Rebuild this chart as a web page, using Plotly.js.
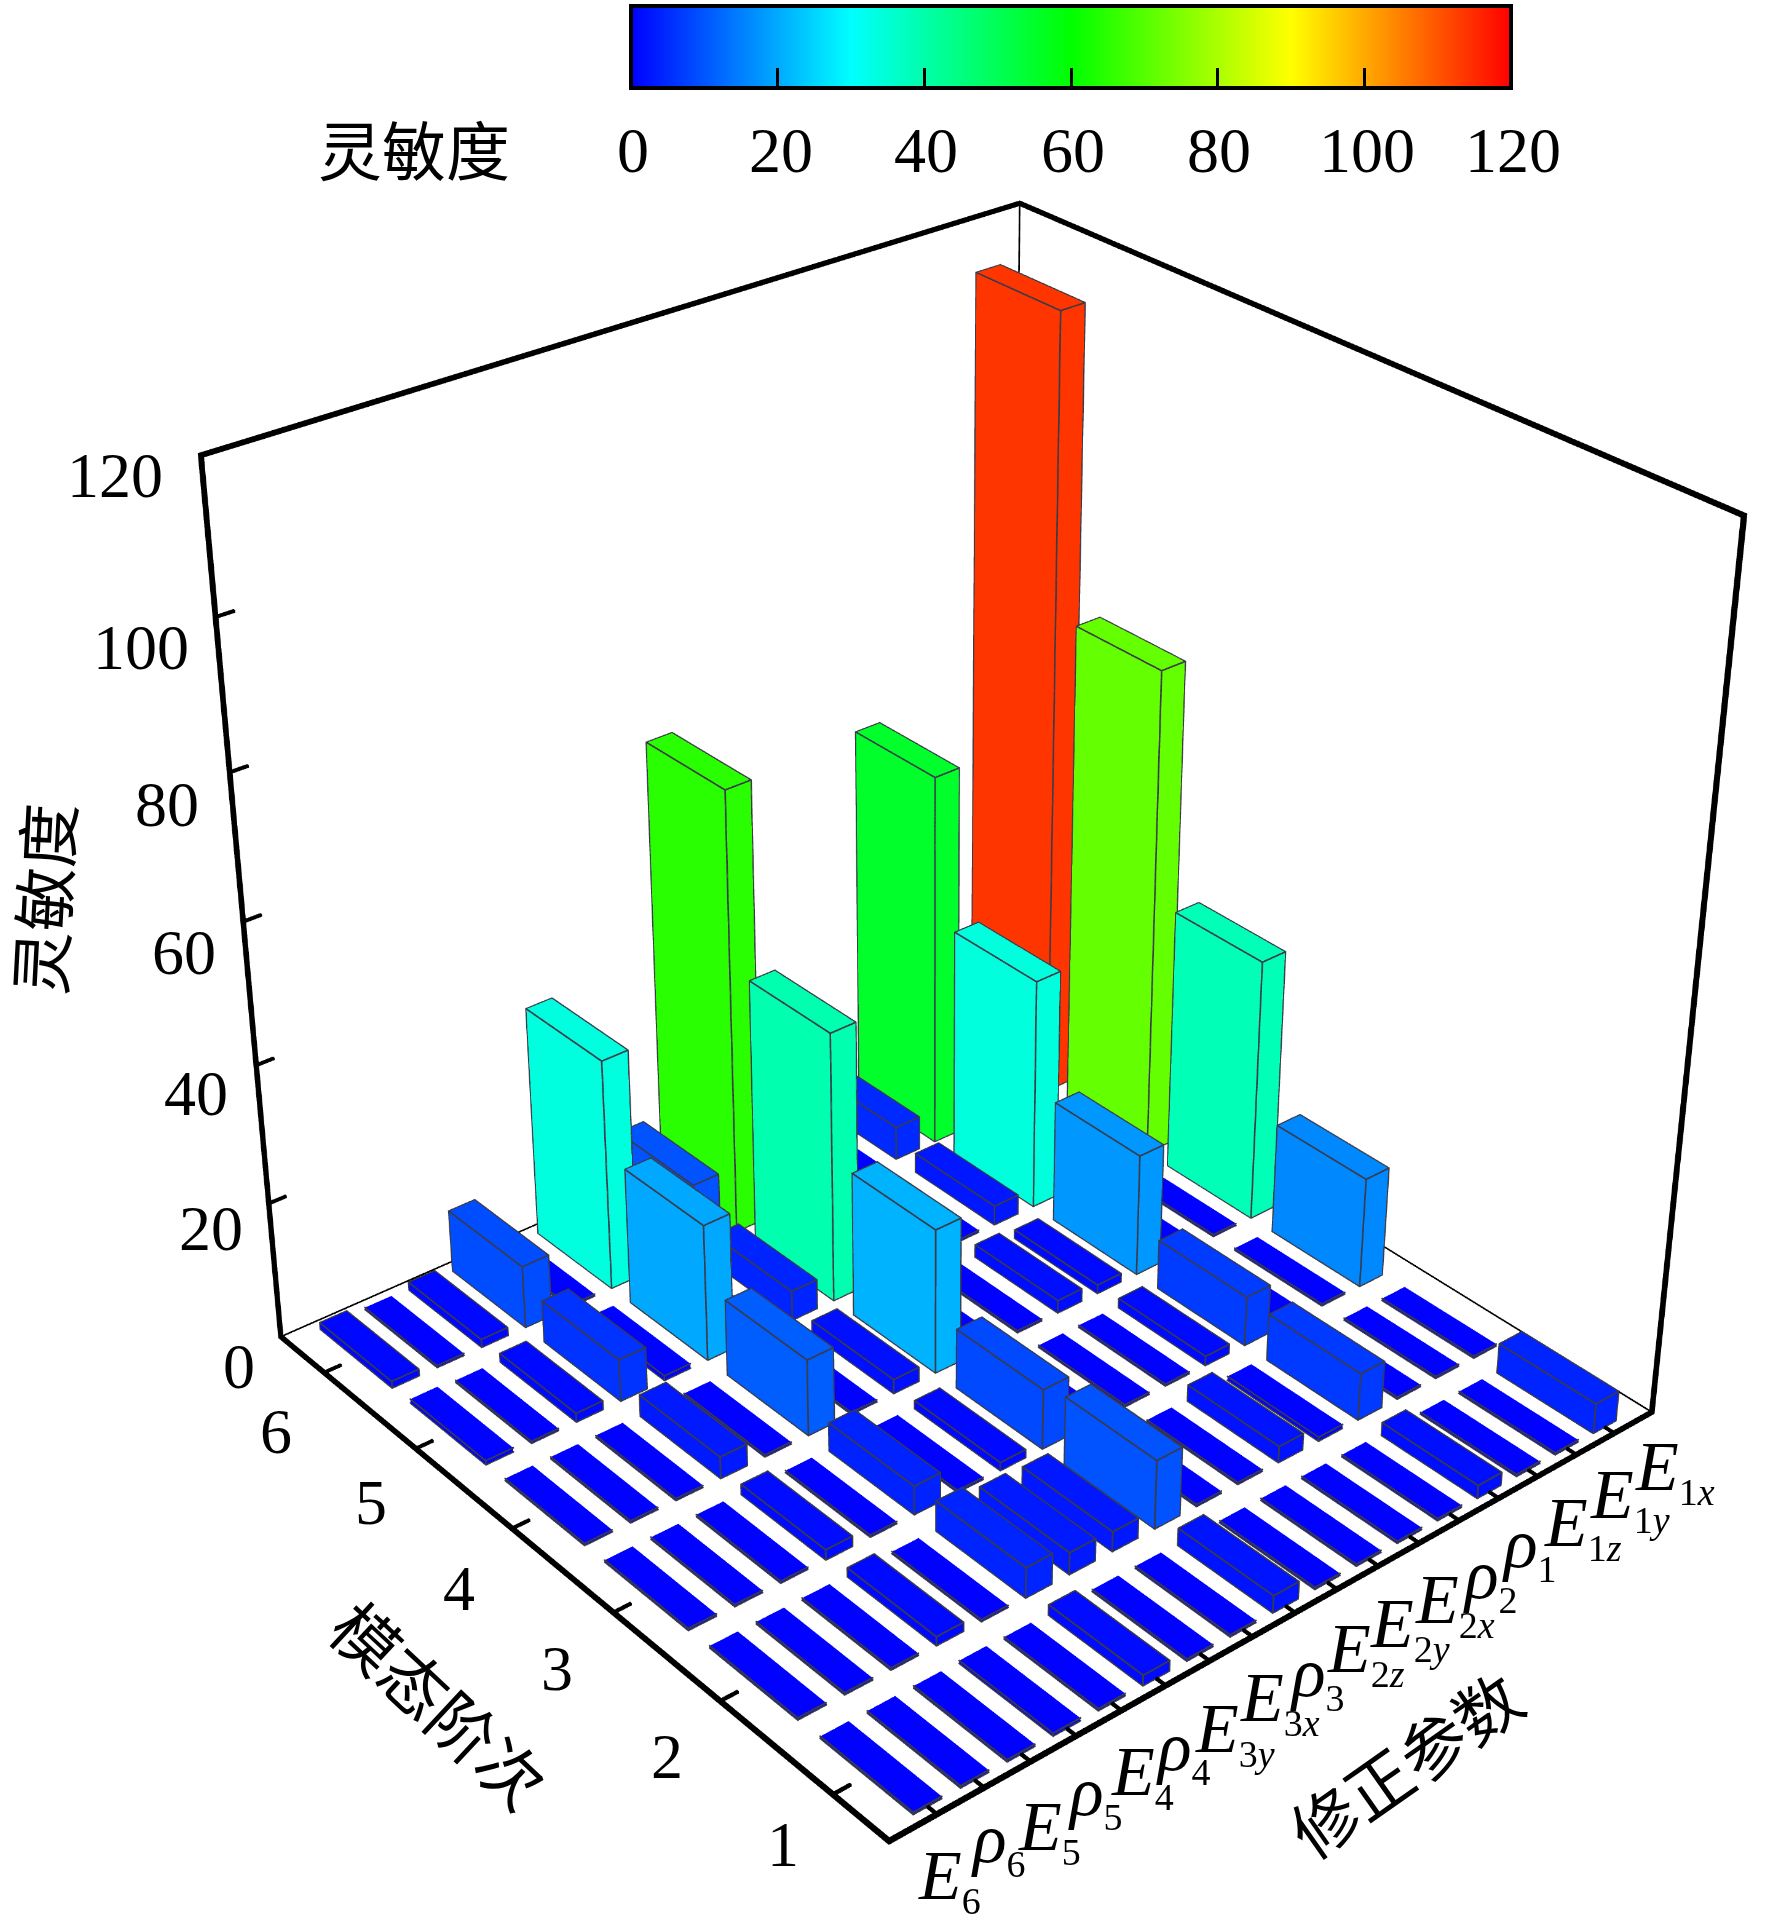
<!DOCTYPE html>
<html>
<head>
<meta charset="utf-8" />
<title>灵敏度</title>
<script src="https://cdn.plot.ly/plotly-3.0.1.min.js"></script>
<style>
html, body { margin: 0; width: 1772px; height: 1925px; overflow: hidden; background: #fff; }
#myDiv { position: absolute; }
</style>
</head>
<body>
<div id="myDiv"></div>
<script>
// one row per mode, one value per parameter (E6 ... E1x)
var mode1 = [0.3, 0.3, 0.3, 0.4, 0.3, 1.5, 0.3, 0.3, 2.5, 0.3, 0.3, 0.3, 0.3, 1.9, 0.3, 0.3, 4.4];
var mode2 = [0.3, 0.3, 0.3, 1.3, 0.3, 4.4, 3.2, 2.9, 10, 0.3, 0.3, 2.4, 0.6, 6.9, 0.3, 0.3, 0.3];
var mode3 = [0.3, 0.3, 0.3, 1.5, 0.3, 4.2, 0.3, 1.2, 8.8, 0.3, 0.3, 0.3, 1.4, 7.3, 0.3, 0.3, 16.3];
var mode4 = [0.3, 0.3, 0.3, 3.2, 0.3, 11.2, 0.3, 2.1, 21.3, 0.3, 0.3, 1.9, 1.3, 18, 0.3, 0.3, 38.7];
var mode5 = [0.6, 0.3, 1.3, 6.2, 0.7, 20.1, 0.3, 4.4, 39.7, 0.3, 0.3, 0.3, 2.9, 34.2, 0.3, 0.3, 71.8];
var mode6 = [1, 0.3, 1.2, 9.2, 0.3, 34, 0.3, 10, 65, 0.3, 0.3, 0.3, 5, 55.2, 0.3, 0.3, 113.5];
var modes = [mode1, mode2, mode3, mode4, mode5, mode6];

var paramBase = ['E', 'ρ', 'E', 'ρ', 'E', 'ρ', 'E', 'E', 'ρ', 'E', 'E', 'E', 'ρ', 'ρ', 'E', 'E', 'E'];
var paramNum = ['6', '6', '5', '5', '4', '4', '3', '3', '3', '2', '2', '2', '2', '1', '1', '1', '1'];
var paramDir = ['', '', '', '', '', '', 'y', 'x', '', 'z', 'y', 'x', '', '', 'z', 'y', 'x'];
var modeLabels = ['1', '2', '3', '4', '5', '6'];
var zLabels = ['0', '20', '40', '60', '80', '100', '120'];
var zTicks = [0, 20, 40, 60, 80, 100, 120];

// page positions of the hand placed labels
var paramPosX = [949, 999, 1049, 1095, 1142, 1183, 1235, 1280, 1317, 1366, 1410, 1455, 1490, 1529, 1583, 1630, 1675];
var paramPosY = [1879, 1842, 1830, 1795, 1775, 1750, 1732, 1701, 1676, 1652, 1627, 1603, 1578, 1547, 1526, 1498, 1470];
var modePosX = [783, 667, 557, 459, 371, 276];
var modePosY = [1844, 1756, 1668, 1588, 1502, 1431];
var zPosX = [239, 211, 196, 184, 167, 141, 115];
var zPosY = [1366, 1228, 1093, 952, 804, 647, 475];
var barTickX = [633, 781, 926, 1073, 1219, 1367, 1513];

// the plot is bigger than the window so that the 45 degree lens matches the picture
var W = 3400, H = 3688, LEFT = -773, TOP = -893;
var gd = document.getElementById('myDiv');
gd.style.left = LEFT + 'px';
gd.style.top = TOP + 'px';
gd.style.width = W + 'px';
gd.style.height = H + 'px';
function px(x) { return (x - LEFT) / W; }
function py(y) { return 1 - (y - TOP) / H; }

var HX = 0.3, HY = 0.4;
var XR = [0, 18], YR = [0.52, 6.49], ZR = [0, 120];
var SPAN = [XR[1] - XR[0], YR[1] - YR[0], ZR[1] - ZR[0]];
var PAD = 0.005;   // room round the box, gl clips at the axis range
function padded(r, s) { return [r[0] - PAD * s, r[1] + PAD * s]; }

function newMesh() { return { x: [], y: [], z: [], i: [], j: [], k: [], intensity: [] }; }
var FACES = [[0,1,2],[0,2,3],[4,5,6],[4,6,7],[0,1,5],[0,5,4],[1,2,6],[1,6,5],[2,3,7],[2,7,6],[3,0,4],[3,4,7]];
function addBox(t, x0, x1, y0, y1, z0, z1, val) {
  var n = t.x.length;
  [x0, x1, x1, x0, x0, x1, x1, x0].forEach(function (a) { t.x.push(a); t.intensity.push(val); });
  [y0, y0, y1, y1, y0, y0, y1, y1].forEach(function (a) { t.y.push(a); });
  [z0, z0, z0, z0, z1, z1, z1, z1].forEach(function (a) { t.z.push(a); });
  FACES.forEach(function (f) { t.i.push(n + f[0]); t.j.push(n + f[1]); t.k.push(n + f[2]); });
}
// a straight line along one axis, drawn as a thin box so it keeps its width
function addBeam(t, a, b, d) {
  addBox(t,
    Math.min(a[0], b[0]) - d * SPAN[0], Math.max(a[0], b[0]) + d * SPAN[0],
    Math.min(a[1], b[1]) - d * SPAN[1], Math.max(a[1], b[1]) + d * SPAN[1],
    Math.min(a[2], b[2]) - d * SPAN[2], Math.max(a[2], b[2]) + d * SPAN[2], 0);
}

var barMesh = newMesh(), edgeMesh = newMesh(), frameMesh = newMesh();
var EDGE = 0.0006, THICK = 0.002, THIN = 0.0006, TICK = 0.0014;

modes.forEach(function (row, m) {
  row.forEach(function (v, p) {
    var cx = p + 1, cy = m + 1;
    var l = cx - HX, r = cx + HX, f = cy - HY, b = cy + HY;
    addBox(barMesh, l, r, f, b, 0, v, v);
    // near edges, and the whole outline for the bars that stand up
    [0, v].forEach(function (z) {
      addBeam(edgeMesh, [l, f, z], [r, f, z], EDGE);
      addBeam(edgeMesh, [l, f, z], [l, b, z], EDGE);
      if (v >= 1) {
        addBeam(edgeMesh, [r, f, z], [r, b, z], EDGE);
        addBeam(edgeMesh, [l, b, z], [r, b, z], EDGE);
      }
    });
    addBeam(edgeMesh, [l, f, 0], [l, f, v], EDGE);
    if (v >= 1) {
      addBeam(edgeMesh, [r, f, 0], [r, f, v], EDGE);
      addBeam(edgeMesh, [l, b, 0], [l, b, v], EDGE);
    }
  });
});

var x0 = XR[0], x1 = XR[1], y0 = YR[0], y1 = YR[1], z1 = ZR[1];
addBeam(frameMesh, [x0, y1, 0], [x0, y0, 0], THICK);
addBeam(frameMesh, [x0, y0, 0], [x1, y0, 0], THICK);
addBeam(frameMesh, [x0, y1, 0], [x0, y1, z1], THICK);
addBeam(frameMesh, [x0, y1, z1], [x1, y1, z1], THICK);
addBeam(frameMesh, [x1, y1, z1], [x1, y0, z1], THICK);
addBeam(frameMesh, [x1, y0, 0], [x1, y0, z1], THICK);
addBeam(frameMesh, [x0, y1, 0], [x1, y1, 0], THIN);
addBeam(frameMesh, [x1, y1, 0], [x1, y0, 0], THIN);
addBeam(frameMesh, [x1, y1, 0], [x1, y1, z1], THIN);
for (var i = 1; i <= 17; i++) addBeam(frameMesh, [i, y0, 0], [i, y0 + 0.13, 0], TICK);
for (var i = 1; i <= 6; i++) addBeam(frameMesh, [x0, i, 0], [x0 + 0.35, i, 0], TICK);
for (var i = 1; i < zTicks.length - 1; i++) addBeam(frameMesh, [x0, y1, zTicks[i]], [x0 + 0.35, y1, zTicks[i]], TICK);

var flat = { ambient: 1, diffuse: 0, specular: 0, roughness: 1, fresnel: 0 };

var bars = Object.assign(barMesh, {
  type: 'mesh3d', cmin: 0, cmax: 120, flatshading: true, hoverinfo: 'skip', lighting: flat,
  colorscale: [[0, '#0000ff'], [0.25, '#00ffff'], [0.5, '#00ff00'], [0.75, '#ffff00'], [1, '#ff0000']],
  showscale: true,
  colorbar: {
    orientation: 'h', x: px(631), xanchor: 'left', y: py(6), yanchor: 'top',
    lenmode: 'fraction', len: 880 / W, thicknessmode: 'pixels', thickness: 82,
    xpad: 0, ypad: 0, outlinewidth: 4, outlinecolor: '#000',
    tickmode: 'array', tickvals: zTicks, showticklabels: false,
    ticks: 'inside', ticklen: 22, tickwidth: 3, tickcolor: '#000'
  }
});

function plain(mesh, color) {
  return { type: 'mesh3d', x: mesh.x, y: mesh.y, z: mesh.z, i: mesh.i, j: mesh.j, k: mesh.k,
    color: color, flatshading: true, hoverinfo: 'skip', lighting: flat, showscale: false };
}

var serif = { family: 'Liberation Serif', size: 64, color: '#000' };
var annotations = [];
function label(text, x, y, font, angle) {
  annotations.push({
    xref: 'paper', yref: 'paper', x: px(x), y: py(y), text: text, showarrow: false,
    xanchor: 'center', yanchor: 'middle', font: font, textangle: angle || 0
  });
}
function cjk(size) { return { family: 'Noto Sans CJK SC', size: size, color: '#000' }; }

paramBase.forEach(function (b, i) {
  var sub = paramNum[i] + (paramDir[i] ? '<i>' + paramDir[i] + '</i>' : '');
  label('<i>' + b + '</i><sub><span style="font-size:38px">' + sub + '</span></sub>', paramPosX[i], paramPosY[i],
    { family: 'Liberation Serif', size: 70, color: '#000' });
});
modeLabels.forEach(function (t, i) { label(t, modePosX[i], modePosY[i], serif); });
zLabels.forEach(function (t, i) {
  label(t, zPosX[i], zPosY[i], serif);
  label(t, barTickX[i], 150, serif);
});
label('灵敏度', 414, 147, cjk(64));
label('灵敏度', 41, 899, cjk(64), -87);
label('模态阶次', 441, 1703, cjk(66), 43);
label('修正参数', 1404, 1762, cjk(66), -35);

function hidden(r, s) {
  return { range: padded(r, s), autorange: false, showgrid: false, zeroline: false, showline: false,
    showspikes: false, showbackground: false, showticklabels: false, ticks: '', title: { text: '' } };
}

var layout = {
  width: W, height: H,
  margin: { l: 0, r: 0, t: 0, b: 0, pad: 0, autoexpand: false },
  paper_bgcolor: '#fff', showlegend: false, hovermode: false,
  annotations: annotations,
  scene: {
    domain: { x: [0, 1], y: [0, 1] },
    bgcolor: '#fff',
    aspectmode: 'manual', aspectratio: { x: 1 + 2 * PAD, y: 1 + 2 * PAD, z: 1 + 2 * PAD },
    xaxis: hidden(XR, SPAN[0]), yaxis: hidden(YR, SPAN[1]), zaxis: hidden(ZR, SPAN[2]),
    camera: {
      eye: { x: -2.396, y: -2.838, z: 2.207 },
      center: { x: -0.023, y: 0.022, z: 0.004 },
      up: { x: 0, y: 0, z: 1 },
      projection: { type: 'perspective' }
    }
  }
};

Plotly.newPlot(gd, [bars, plain(edgeMesh, '#3a3a48'), plain(frameMesh, '#000')], layout, { displayModeBar: false });
</script>
</body>
</html>
